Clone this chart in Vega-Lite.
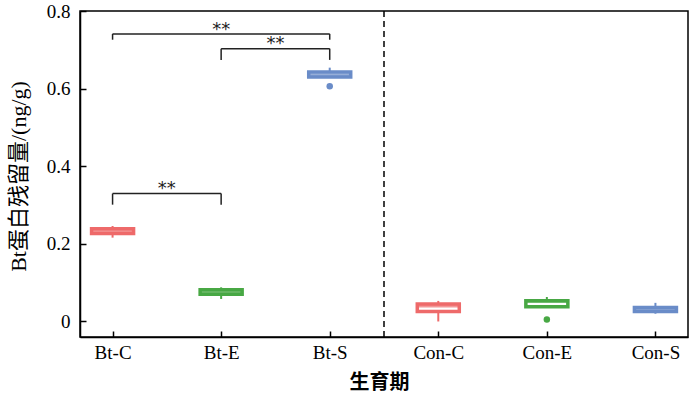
{
  "$schema": "https://vega.github.io/schema/vega-lite/v6.json",
  "width": 608,
  "height": 326,
  "autosize": {"type": "none"},
  "padding": {"left": 80, "top": 11, "right": 12, "bottom": 58},
  "background": "white",
  "config": {
    "view": {"stroke": "black", "strokeWidth": 1.5},
    "axis": {
      "domainColor": "black",
      "domainWidth": 1.5,
      "tickColor": "black",
      "tickWidth": 1.5,
      "grid": false,
      "labelFont": "Liberation Serif",
      "labelFontSize": 19,
      "labelColor": "black",
      "titleColor": "black"
    }
  },
  "datasets": {
    "boxes": [
      {"stage": "Bt-C", "lo": 0.216, "q1": 0.227, "med": 0.233, "q3": 0.239, "hi": 0.246},
      {"stage": "Bt-E", "lo": 0.058, "q1": 0.070, "med": 0.076, "q3": 0.082, "hi": 0.088},
      {"stage": "Bt-S", "lo": 0.630, "q1": 0.630, "med": 0.636, "q3": 0.643, "hi": 0.654},
      {"stage": "Con-C", "lo": 0.0, "q1": 0.026, "med": 0.040, "q3": 0.045, "hi": 0.053},
      {"stage": "Con-E", "lo": 0.038, "q1": 0.038, "med": 0.052, "q3": 0.0535, "hi": 0.063},
      {"stage": "Con-S", "lo": 0.020, "q1": 0.0255, "med": 0.031, "q3": 0.036, "hi": 0.048}
    ],
    "outliers": [
      {"stage": "Bt-S", "value": 0.606},
      {"stage": "Con-E", "value": 0.005}
    ],
    "brackets": [
      {"a": 0, "b": 2, "mid": 1, "y": 0.741, "yb": 0.726, "ty": 0.752, "label": "**"},
      {"a": 1, "b": 2, "mid": 1.5, "y": 0.703, "yb": 0.674, "ty": 0.714, "label": "**"},
      {"a": 0, "b": 1, "mid": 0.5, "y": 0.3295, "yb": 0.301, "ty": 0.341, "label": "**"}
    ],
    "divider": [{"pos": 2.5}]
  },
  "layer": [
    {
      "encoding": {
        "x": {
          "field": "stage",
          "type": "nominal",
          "sort": ["Bt-C", "Bt-E", "Bt-S", "Con-C", "Con-E", "Con-S"],
          "scale": {"type": "point", "padding": 0.3},
          "axis": {
            "title": "生育期",
            "titleFont": "Noto Sans CJK SC",
            "titleFontSize": 20,
            "titleFontWeight": "bold",
            "titlePadding": 10,
            "titleX": 299,
            "labelAngle": 0,
            "tickSize": -6,
            "labelPadding": 12
          }
        }
      },
      "layer": [
        {
          "data": {"name": "boxes"},
          "mark": {"type": "rule", "strokeWidth": 2},
          "encoding": {
            "y": {
              "field": "lo",
              "type": "quantitative",
              "scale": {"domain": [-0.04, 0.8], "nice": false, "zero": false},
              "axis": {
                "title": "Bt蛋白残留量/(ng/g)",
                "titleFont": "Liberation Serif, Noto Sans CJK SC",
                "titleFontSize": 22,
                "titleFontWeight": "normal",
                "titleX": -50,
                "titleY": 165,
                "values": [0, 0.2, 0.4, 0.6, 0.8],
                "labelExpr": "datum.value == 0 ? '0' : format(datum.value, '.1f')",
                "tickSize": -6,
                "labelPadding": 16
              }
            },
            "y2": {"field": "hi"},
            "color": {
              "field": "stage",
              "type": "nominal",
              "scale": {
                "domain": ["Bt-C", "Bt-E", "Bt-S", "Con-C", "Con-E", "Con-S"],
                "range": ["#EE6A6A", "#48A844", "#6A8CC8", "#EE6A6A", "#48A844", "#6A8CC8"]
              },
              "legend": null
            }
          }
        },
        {
          "data": {"name": "boxes"},
          "mark": {"type": "bar", "size": 42, "fill": "white", "strokeWidth": 3.5},
          "encoding": {
            "y": {"field": "q1", "type": "quantitative"},
            "y2": {"field": "q3"},
            "stroke": {
              "field": "stage",
              "type": "nominal",
              "scale": {
                "domain": ["Bt-C", "Bt-E", "Bt-S", "Con-C", "Con-E", "Con-S"],
                "range": ["#EE6A6A", "#48A844", "#6A8CC8", "#EE6A6A", "#48A844", "#6A8CC8"]
              },
              "legend": null
            }
          }
        },
        {
          "data": {"name": "boxes"},
          "mark": {"type": "tick", "size": 42, "thickness": 3},
          "encoding": {
            "y": {"field": "med", "type": "quantitative"},
            "color": {"field": "stage", "type": "nominal", "legend": null}
          }
        },
        {
          "data": {"name": "outliers"},
          "mark": {"type": "point", "filled": true, "size": 42, "opacity": 1},
          "encoding": {
            "y": {"field": "value", "type": "quantitative"},
            "color": {"field": "stage", "type": "nominal", "legend": null}
          }
        }
      ]
    },
    {
      "layer": [
        {
          "data": {"name": "brackets"},
          "mark": {"type": "rule", "color": "#222222", "strokeWidth": 1.5},
          "encoding": {
            "x": {"field": "a", "type": "quantitative", "scale": {"domain": [-0.3, 5.3], "nice": false, "zero": false}, "axis": null},
            "x2": {"field": "b"},
            "y": {"field": "y", "type": "quantitative"}
          }
        },
        {
          "data": {"name": "brackets"},
          "mark": {"type": "rule", "color": "#222222", "strokeWidth": 1.5},
          "encoding": {
            "x": {"field": "a", "type": "quantitative", "axis": null},
            "y": {"field": "y", "type": "quantitative"},
            "y2": {"field": "yb"}
          }
        },
        {
          "data": {"name": "brackets"},
          "mark": {"type": "rule", "color": "#222222", "strokeWidth": 1.5},
          "encoding": {
            "x": {"field": "b", "type": "quantitative", "axis": null},
            "y": {"field": "y", "type": "quantitative"},
            "y2": {"field": "yb"}
          }
        },
        {
          "data": {"name": "brackets"},
          "mark": {"type": "text", "font": "DejaVu Sans", "fontSize": 18, "fontWeight": "normal", "baseline": "middle", "color": "#222222"},
          "encoding": {
            "x": {"field": "mid", "type": "quantitative", "axis": null},
            "y": {"field": "ty", "type": "quantitative"},
            "text": {"field": "label"}
          }
        },
        {
          "data": {"name": "divider"},
          "mark": {"type": "rule", "color": "black", "strokeWidth": 1.5, "strokeDash": [6, 4]},
          "encoding": {
            "x": {"field": "pos", "type": "quantitative", "axis": null}
          }
        }
      ]
    }
  ],
  "resolve": {"scale": {"x": "independent"}, "axis": {"x": "independent"}}
}
